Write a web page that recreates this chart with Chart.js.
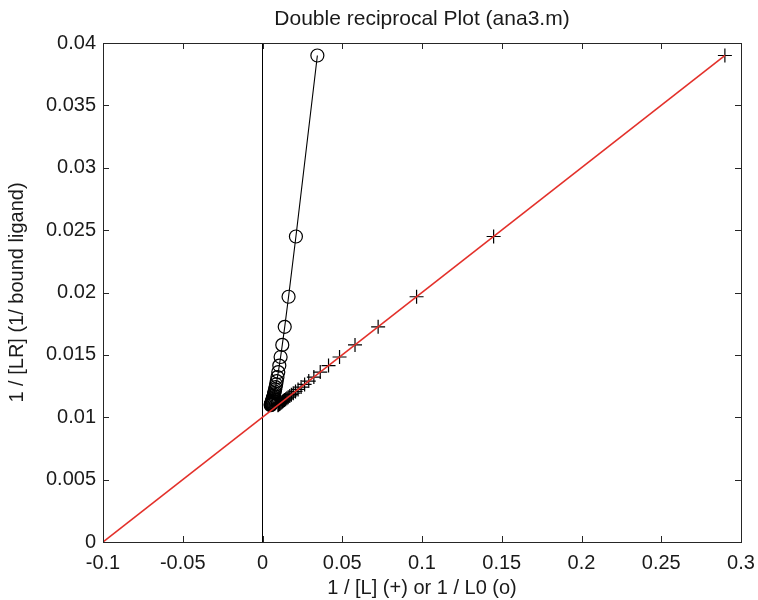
<!DOCTYPE html>
<html>
<head>
<meta charset="utf-8">
<script src="https://cdn.jsdelivr.net/npm/chart.js@4/dist/chart.umd.min.js"></script>
<style>
  html, body { margin: 0; padding: 0; background: #ffffff; }
  #wrap { width: 758px; height: 600px; }
</style>
</head>
<body>
<div id="wrap"><canvas id="chart" width="758" height="600"></canvas></div>
<script>
// 1/[L] values (crosses)
const invL = [0.2899, 0.1449, 0.0966, 0.0725, 0.058, 0.0483, 0.0414, 0.0362, 0.0322, 0.029,
  0.0264, 0.0242, 0.0223, 0.0207, 0.0193, 0.0181, 0.0171, 0.0161, 0.0153, 0.0145,
  0.0138, 0.0132, 0.0126, 0.0121, 0.0116, 0.0111, 0.0107, 0.0104, 0.0100, 0.0097];

// 1/L0 values (circles)
const invL0 = [0.0344, 0.02095, 0.01634, 0.01393, 0.01241, 0.01135, 0.01054, 0.0099, 0.00937, 0.00893,
  0.00854, 0.0082, 0.0079, 0.00762, 0.00738, 0.00715, 0.00694, 0.00675, 0.00657, 0.0064,
  0.00624, 0.00609, 0.00595, 0.00581, 0.00569, 0.00557, 0.00545, 0.00534, 0.00524, 0.00514];

// 1/[LR] values (shared by both series)
const invLR = [0.0390, 0.02449, 0.01966, 0.01725, 0.0158, 0.01483, 0.01414, 0.01362, 0.01322, 0.0129,
  0.01263, 0.01242, 0.01223, 0.01207, 0.01193, 0.01181, 0.01171, 0.01161, 0.01153, 0.01145,
  0.01138, 0.01132, 0.01126, 0.01121, 0.01116, 0.01111, 0.01107, 0.01104, 0.0110, 0.01097];

// red fitted line end points
const fitX = [-0.1, 0.29];
const fitY = [0, 0.039];

// vertical line at x = 0
const zeroLineY = [0, 0.04];

const xTickValues = [-0.1, -0.05, 0, 0.05, 0.1, 0.15, 0.2, 0.25, 0.3];
const yTickValues = [0, 0.005, 0.01, 0.015, 0.02, 0.025, 0.03, 0.035, 0.04];

const TEXT_COLOR = '#1a1a1a';
const AXIS_COLOR = '#262626';
const FONT = '"Liberation Sans", Arial, Helvetica, sans-serif';

// draws the box, the inward ticks on all four sides and the title
const matlabAxes = {
  id: 'matlabAxes',
  afterDraw(chart) {
    const { ctx, chartArea: a, scales } = chart;
    const len = 6;
    ctx.save();
    ctx.strokeStyle = AXIS_COLOR;
    ctx.lineWidth = 1;
    ctx.beginPath();
    xTickValues.forEach(v => {
      const px = Math.round(scales.x.getPixelForValue(v)) + 0.5;
      ctx.moveTo(px, a.bottom); ctx.lineTo(px, a.bottom - len);
      ctx.moveTo(px, a.top); ctx.lineTo(px, a.top + len);
    });
    yTickValues.forEach(v => {
      const py = Math.round(scales.y.getPixelForValue(v)) + 0.5;
      ctx.moveTo(a.left, py); ctx.lineTo(a.left + len, py);
      ctx.moveTo(a.right, py); ctx.lineTo(a.right - len, py);
    });
    ctx.stroke();
    ctx.strokeRect(Math.round(a.left) + 0.5, Math.round(a.top) + 0.5,
      Math.round(a.right - a.left), Math.round(a.bottom - a.top));

    ctx.fillStyle = TEXT_COLOR;
    ctx.font = '21px ' + FONT;
    ctx.textAlign = 'center';
    ctx.textBaseline = 'middle';
    ctx.fillText('Double reciprocal Plot (ana3.m)', (a.left + a.right) / 2, 19);
    ctx.restore();
  }
};

const ctx = document.getElementById('chart').getContext('2d');
new Chart(ctx, {
  type: 'scatter',
  data: {
    datasets: [
      {
        label: 'fit',
        data: fitX.map((x, i) => ({ x, y: fitY[i] })),
        showLine: true,
        borderColor: '#e3302a',
        borderWidth: 1.6,
        pointRadius: 0,
        order: 0
      },
      {
        label: '1/[L]',
        data: invL.map((x, i) => ({ x, y: invLR[i] })),
        showLine: false,
        pointStyle: 'cross',
        pointRadius: 7,
        borderColor: '#000000',
        borderWidth: 1.2,
        order: 1
      },
      {
        label: '1/L0',
        data: invL0.map((x, i) => ({ x, y: invLR[i] })),
        showLine: true,
        borderColor: '#000000',
        borderWidth: 1.1,
        pointStyle: 'circle',
        pointRadius: 6.5,
        pointBackgroundColor: 'rgba(0,0,0,0)',
        pointBorderColor: '#000000',
        pointBorderWidth: 1.2,
        order: 2
      },
      {
        label: 'zero',
        data: zeroLineY.map(y => ({ x: 0, y })),
        showLine: true,
        borderColor: '#000000',
        borderWidth: 1,
        pointRadius: 0,
        order: 3
      }
    ]
  },
  options: {
    responsive: false,
    animation: false,
    devicePixelRatio: 1,
    layout: { padding: { top: 43, right: 17, bottom: 0, left: 0 } },
    plugins: {
      legend: { display: false },
      tooltip: { enabled: false },
      title: { display: false }
    },
    scales: {
      x: {
        type: 'linear',
        min: -0.1,
        max: 0.3,
        afterBuildTicks: s => { s.ticks = xTickValues.map(v => ({ value: v })); },
        afterFit: s => { s.height = 58; s.paddingLeft = 0; s.paddingRight = 0; },
        grid: { display: false, drawTicks: false },
        border: { display: false },
        ticks: {
          padding: 9,
          color: TEXT_COLOR,
          font: { family: FONT, size: 20 },
          callback: v => String(v)
        },
        title: {
          display: true,
          text: '1 / [L] (+) or 1 / L0 (o)',
          color: TEXT_COLOR,
          font: { family: FONT, size: 20 },
          padding: { top: 0, bottom: 0 }
        }
      },
      y: {
        type: 'linear',
        min: 0,
        max: 0.04,
        afterBuildTicks: s => { s.ticks = yTickValues.map(v => ({ value: v })); },
        afterFit: s => { s.width = 103; s.paddingTop = 0; s.paddingBottom = 0; },
        grid: { display: false, drawTicks: false },
        border: { display: false },
        ticks: {
          padding: 7,
          color: TEXT_COLOR,
          font: { family: FONT, size: 20 },
          callback: v => String(v)
        },
        title: {
          display: true,
          text: '1 / [LR] (1/ bound ligand)',
          color: TEXT_COLOR,
          font: { family: FONT, size: 20 },
          padding: { top: 5, bottom: 0 }
        }
      }
    }
  },
  plugins: [matlabAxes]
});
</script>
</body>
</html>
